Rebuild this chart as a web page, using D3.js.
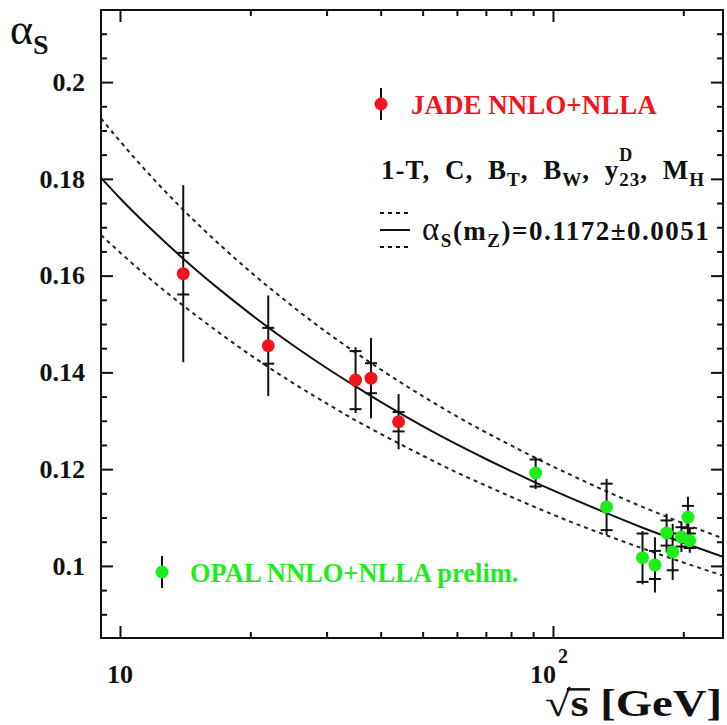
<!DOCTYPE html>
<html>
<head>
<meta charset="utf-8">
<script src="https://cdn.jsdelivr.net/npm/d3@7"></script>
<style>
  body { margin: 0; background: #fff; }
  text { font-family: "Liberation Serif", "Times New Roman", serif; font-weight: bold; }
</style>
</head>
<body>
<div id="chart"></div>
<script>
const width = 727;
const height = 725;
const margin = { left: 101, top: 10, right: 4, bottom: 87 };
const chartWidth = width - margin.left - margin.right;
const chartHeight = height - margin.top - margin.bottom;

const red = "#f2141c";
const green = "#1cee1c";

// JADE points (sqrt(s) in GeV)
const jadeEnergy = [14, 22, 35, 38, 44];
const jadeAlpha = [0.1604, 0.1455, 0.1384, 0.1388, 0.1298];
const jadeTotErr = [0.0183, 0.0104, 0.0068, 0.0083, 0.0057];
const jadeStatErr = [0.0043, 0.0037, 0.006, 0.0031, 0.002];

// OPAL points
const opalEnergy = [91.2, 133, 161, 172, 183, 189, 198, 205, 207];
const opalAlpha = [0.1192, 0.1122, 0.1017, 0.1002, 0.1068, 0.1029, 0.106, 0.1101, 0.1052];
const opalTotErr = [0.0033, 0.0058, 0.0055, 0.0057, 0.004, 0.0058, 0.0031, 0.0042, 0.0025];
const opalStatErr = [0.0028, 0.0048, 0.005, 0.0029, 0.0026, 0.0038, 0.002, 0.0023, 0.0015];

// running alpha_s curve
const curveEnergy = [9.04, 10, 12, 14, 17, 20, 25, 30, 35, 40, 50, 60, 70, 80, 91.2, 110, 133, 160, 200, 247];
const curveCentral = [0.1802, 0.176, 0.169, 0.1635, 0.1571, 0.1521, 0.1457, 0.1409, 0.1371, 0.1339, 0.1289, 0.1251, 0.1221, 0.1196, 0.1172, 0.114, 0.1109, 0.108, 0.1048, 0.1019];
const curveUpper = [0.1925, 0.1878, 0.1798, 0.1736, 0.1664, 0.1608, 0.1537, 0.1483, 0.1441, 0.1406, 0.1351, 0.1309, 0.1276, 0.1249, 0.1223, 0.1188, 0.1154, 0.1123, 0.1088, 0.1057];
const curveLower = [0.1684, 0.1648, 0.1586, 0.1538, 0.1481, 0.1436, 0.1379, 0.1336, 0.1301, 0.1273, 0.1228, 0.1193, 0.1166, 0.1143, 0.1121, 0.1091, 0.1063, 0.1037, 0.1007, 0.098];

// axes
const xDomain = [9.04, 247];
const yDomain = [0.0851, 0.2149];
const yMajorTicks = [0.1, 0.12, 0.14, 0.16, 0.18, 0.2];
const yMinorTicks = [0.09, 0.095, 0.105, 0.11, 0.115, 0.125, 0.13, 0.135, 0.145, 0.15, 0.155, 0.165, 0.17, 0.175, 0.185, 0.19, 0.195, 0.205, 0.21];
const xMajorTicks = [10, 100];
const xMinorTicks = [20, 30, 40, 50, 60, 70, 80, 90, 200];

let svg;
let plot;
let xScale;
let yScale;

function createChart() {
  createSvg();
  createScales();
  createAxes();
  createCurves();
  createPoints(jadeEnergy, jadeAlpha, jadeTotErr, jadeStatErr, red);
  createPoints(opalEnergy, opalAlpha, opalTotErr, opalStatErr, green);
  createLegend();
  createAxisTitles();
}

function createSvg() {
  svg = d3.select("#chart")
    .append("svg")
    .attr("width", width)
    .attr("height", height);

  svg.append("defs")
    .append("clipPath")
    .attr("id", "frame")
    .append("rect")
    .attr("width", chartWidth)
    .attr("height", chartHeight);

  plot = svg.append("g")
    .attr("transform", `translate(${margin.left},${margin.top})`);
}

function createScales() {
  xScale = d3.scaleLog().domain(xDomain).range([0, chartWidth]);
  yScale = d3.scaleLinear().domain(yDomain).range([chartHeight, 0]);
}

function styleAxis(g) {
  g.select(".domain").remove();
  g.selectAll("line").attr("stroke", "#111").attr("stroke-width", 2);
  g.selectAll("text").attr("fill", "#111").attr("font-size", 26)
    .attr("font-family", "Liberation Serif, serif").attr("font-weight", "bold");
}

function createAxes() {
  const fmt = d3.format("~g");
  const minor = yMinorTicks.filter(v => v > yDomain[0]);

  plot.append("g")
    .call(d3.axisLeft(yScale).tickValues(yMajorTicks).tickSize(-12).tickPadding(16).tickFormat(fmt))
    .call(styleAxis);
  plot.append("g")
    .call(d3.axisLeft(yScale).tickValues(minor).tickSize(-6).tickFormat(""))
    .call(styleAxis);

  plot.append("g")
    .attr("transform", `translate(${chartWidth},0)`)
    .call(d3.axisRight(yScale).tickValues(yMajorTicks).tickSize(-12).tickFormat(""))
    .call(styleAxis);
  plot.append("g")
    .attr("transform", `translate(${chartWidth},0)`)
    .call(d3.axisRight(yScale).tickValues(minor).tickSize(-6).tickFormat(""))
    .call(styleAxis);

  plot.append("g")
    .attr("transform", `translate(0,${chartHeight})`)
    .call(d3.axisBottom(xScale).tickValues(xMajorTicks).tickSize(-12).tickFormat(""))
    .call(styleAxis);
  plot.append("g")
    .attr("transform", `translate(0,${chartHeight})`)
    .call(d3.axisBottom(xScale).tickValues(xMinorTicks).tickSize(-6).tickFormat(""))
    .call(styleAxis);

  plot.append("g")
    .call(d3.axisTop(xScale).tickValues(xMajorTicks).tickSize(-12).tickFormat(""))
    .call(styleAxis);
  plot.append("g")
    .call(d3.axisTop(xScale).tickValues(xMinorTicks).tickSize(-6).tickFormat(""))
    .call(styleAxis);

  // frame
  plot.append("rect")
    .attr("width", chartWidth)
    .attr("height", chartHeight)
    .attr("fill", "none")
    .attr("stroke", "#111")
    .attr("stroke-width", 2);

  // x tick labels: 10 and 10^2
  const labels = plot.append("g")
    .attr("font-size", 26)
    .attr("fill", "#111");
  labels.append("text")
    .attr("x", xScale(10))
    .attr("y", chartHeight + 45)
    .attr("text-anchor", "middle")
    .text("10");
  const hundred = labels.append("text")
    .attr("x", xScale(100) - 23)
    .attr("y", chartHeight + 45)
    .text("10");
  hundred.append("tspan")
    .attr("font-size", 20)
    .attr("dx", 2)
    .attr("dy", -20)
    .text("2");
}

function createCurves() {
  const clip = plot.append("g").attr("clip-path", "url(#frame)");
  const line = (vals) => d3.line()
    .x((d, i) => xScale(curveEnergy[i]))
    .y((d) => yScale(d))
    .curve(d3.curveMonotoneX)(vals);

  clip.append("path")
    .attr("d", line(curveCentral))
    .attr("fill", "none")
    .attr("stroke", "#111")
    .attr("stroke-width", 2);

  [curveUpper, curveLower].forEach((vals) => {
    clip.append("path")
      .attr("d", line(vals))
      .attr("fill", "none")
      .attr("stroke", "#222")
      .attr("stroke-width", 2)
      .attr("stroke-dasharray", "4,4");
  });
}

function createPoints(energy, alpha, totErr, statErr, color) {
  const g = plot.append("g");
  const rows = energy.map((e, i) => ({ e, a: alpha[i], tot: totErr[i], stat: statErr[i] }));

  g.selectAll(".bar")
    .data(rows)
    .enter()
    .append("line")
    .attr("x1", (d) => xScale(d.e))
    .attr("x2", (d) => xScale(d.e))
    .attr("y1", (d) => yScale(d.a + d.tot))
    .attr("y2", (d) => yScale(d.a - d.tot))
    .attr("stroke", "#111")
    .attr("stroke-width", 2);

  rows.forEach((d) => {
    [d.a + d.stat, d.a - d.stat].forEach((v) => {
      g.append("line")
        .attr("x1", xScale(d.e) - 6)
        .attr("x2", xScale(d.e) + 6)
        .attr("y1", yScale(v))
        .attr("y2", yScale(v))
        .attr("stroke", "#111")
        .attr("stroke-width", 2);
    });
  });

  g.selectAll(".dot")
    .data(rows)
    .enter()
    .append("circle")
    .attr("cx", (d) => xScale(d.e))
    .attr("cy", (d) => yScale(d.a))
    .attr("r", 6.5)
    .attr("fill", color);
}

function legendMarker(x, y, color) {
  svg.append("line")
    .attr("x1", x).attr("x2", x)
    .attr("y1", y - 16).attr("y2", y + 16)
    .attr("stroke", "#111").attr("stroke-width", 2);
  svg.append("circle")
    .attr("cx", x).attr("cy", y).attr("r", 6.5)
    .attr("fill", color);
}

function createLegend() {
  legendMarker(381, 104, red);
  svg.append("text")
    .attr("x", 411).attr("y", 114)
    .attr("font-size", 27)
    .attr("fill", red)
    .text("JADE NNLO+NLLA");

  const obs = svg.append("text")
    .attr("x", 381).attr("y", 179)
    .attr("font-size", 27)
    .attr("letter-spacing", 1)
    .attr("word-spacing", 7)
    .attr("fill", "#111");
  obs.append("tspan").text("1-T, C, B");
  obs.append("tspan").attr("font-size", 19).attr("dy", 7).text("T");
  obs.append("tspan").attr("dy", -7).text(", B");
  obs.append("tspan").attr("font-size", 19).attr("dy", 7).text("W");
  obs.append("tspan").attr("dy", -7).text(", y");
  obs.append("tspan").attr("font-size", 18).attr("dy", -18).text("D");
  obs.append("tspan").attr("font-size", 19).attr("dx", -14).attr("dy", 25).text("23");
  obs.append("tspan").attr("dy", -7).text(", M");
  obs.append("tspan").attr("font-size", 19).attr("dy", 7).text("H");

  const dash = [["4,4", 213], [null, 230], ["4,4", 247]];
  dash.forEach(([d, y]) => {
    svg.append("line")
      .attr("x1", 380).attr("x2", 410)
      .attr("y1", y).attr("y2", y)
      .attr("stroke", "#111")
      .attr("stroke-width", 2)
      .attr("stroke-dasharray", d);
  });

  const fit = svg.append("text")
    .attr("x", 422).attr("y", 240)
    .attr("font-size", 27)
    .attr("letter-spacing", 1.5)
    .attr("fill", "#111");
  fit.append("tspan").attr("font-size", 33).attr("font-weight", "normal").text("α");
  fit.append("tspan").attr("font-size", 19).attr("dy", 7).text("S");
  fit.append("tspan").attr("dy", -7).text("(m");
  fit.append("tspan").attr("font-size", 19).attr("dy", 7).text("Z");
  fit.append("tspan").attr("dy", -7).text(")=0.1172±0.0051");

  legendMarker(162, 572, green);
  svg.append("text")
    .attr("x", 190).attr("y", 582)
    .attr("font-size", 26.5)
    .attr("fill", green)
    .text("OPAL NNLO+NLLA prelim.");
}

function createAxisTitles() {
  const ylab = svg.append("text")
    .attr("x", 10).attr("y", 44)
    .attr("fill", "#111");
  ylab.append("tspan").attr("font-size", 44).attr("font-weight", "normal").text("α");
  ylab.append("tspan").attr("font-size", 28).attr("dy", 10).text("S");

  // x title, glyphs widened a little like the original
  const fs = 37;
  const title = svg.append("g")
    .attr("transform", "translate(722,716) scale(1.26,1)");
  const t = title.append("text")
    .attr("text-anchor", "end")
    .attr("font-size", fs)
    .attr("fill", "#111")
    .text("√s [GeV]");
  const root = t.node().getExtentOfChar(0);
  const ess = t.node().getExtentOfChar(1);
  title.append("line")
    .attr("x1", root.x + root.width - 3)
    .attr("x2", ess.x + ess.width + 1)
    .attr("y1", -0.72 * fs)
    .attr("y2", -0.72 * fs)
    .attr("stroke", "#111")
    .attr("stroke-width", 2.5);
}

createChart();
</script>
</body>
</html>
